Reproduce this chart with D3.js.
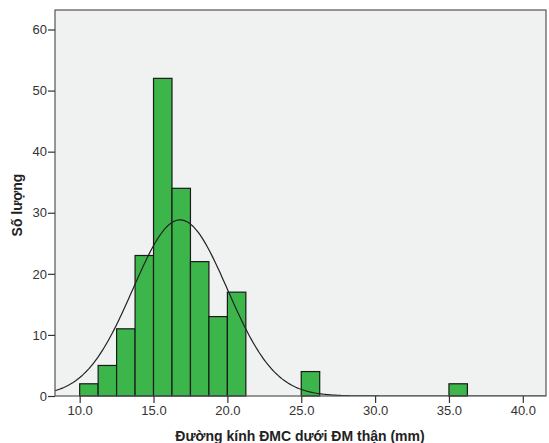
<!DOCTYPE html>
<html lang="vi">
<head>
<meta charset="UTF-8">
<title>Histogram</title>
<script src="https://d3js.org/d3.v7.min.js"></script>
<style>
  body { margin: 0; background: #fff; }
  text { font-family: "Liberation Sans", Arial, sans-serif; }
</style>
</head>
<body>
<svg id="chart"></svg>
<script>
    // bin start values and counts
    let binStarts = [10, 11.25, 12.5, 13.75, 15, 16.25, 17.5, 18.75, 20, 25, 35];
    let counts = [2, 5, 11, 23, 52, 34, 22, 13, 17, 4, 2];
    let binWidth = 1.25;
    let xTicks = [10, 15, 20, 25, 30, 35, 40];
    let yTicks = [0, 10, 20, 30, 40, 50, 60];
    // normal curve fitted by SPSS
    let mean = 16.8, sd = 3.2, n = 185;

    let width = 549, height = 443;
    let plotLeft = 55, plotRight = 546, plotTop = 10, plotBottom = 396;

    let svg = d3.select("#chart")
        .attr("width", width)
        .attr("height", height);

    let x = d3.scaleLinear().domain([8.33, 41.57]).range([plotLeft, plotRight]);
    let y = d3.scaleLinear().domain([0, 60]).range([plotBottom, 29.5]);

    // plot background
    svg.append("rect")
        .attr("x", plotLeft).attr("y", plotTop)
        .attr("width", plotRight - plotLeft).attr("height", plotBottom - plotTop)
        .attr("fill", "#f0f1f1");

    svg.append("clipPath").attr("id", "clip")
        .append("rect")
        .attr("x", plotLeft).attr("y", plotTop)
        .attr("width", plotRight - plotLeft).attr("height", plotBottom - plotTop);

    // bars
    svg.selectAll(".bar")
        .data(binStarts)
        .enter().append("rect")
        .attr("class", "bar")
        .attr("x", function (d) { return x(d); })
        .attr("y", function (d, i) { return y(counts[i]); })
        .attr("width", function (d) { return x(d + binWidth) - x(d); })
        .attr("height", function (d, i) { return y(0) - y(counts[i]); })
        .attr("fill", "#3cb54a")
        .attr("stroke", "#1a1a1a")
        .attr("stroke-width", 1.2);

    // normal curve
    let curve = d3.range(8.33, 41.6, 0.1).map(function (v) {
        let z = (v - mean) / sd;
        return [v, n * binWidth / (sd * Math.sqrt(2 * Math.PI)) * Math.exp(-0.5 * z * z)];
    });
    svg.append("path")
        .datum(curve)
        .attr("clip-path", "url(#clip)")
        .attr("fill", "none")
        .attr("stroke", "#222")
        .attr("stroke-width", 1.2)
        .attr("d", d3.line()
            .x(function (d) { return x(d[0]); })
            .y(function (d) { return y(d[1]); }));

    // frame
    svg.append("rect")
        .attr("x", plotLeft).attr("y", plotTop)
        .attr("width", plotRight - plotLeft).attr("height", plotBottom - plotTop)
        .attr("fill", "none")
        .attr("stroke", "#555")
        .attr("stroke-width", 1.2);

    // axes
    let xAxis = svg.append("g")
        .attr("transform", "translate(0," + plotBottom + ")")
        .call(d3.axisBottom(x).tickValues(xTicks).tickSize(7).tickPadding(3)
            .tickFormat(d3.format(".1f")));
    let yAxis = svg.append("g")
        .attr("transform", "translate(" + plotLeft + ",0)")
        .call(d3.axisLeft(y).tickValues(yTicks).tickSize(7).tickPadding(1));

    [xAxis, yAxis].forEach(function (g) {
        g.select(".domain").remove();
        g.selectAll("line").attr("stroke", "#333").attr("stroke-width", 1.2);
        g.selectAll("text")
            .attr("fill", "#333")
            .style("font-size", "13px")
            .style("font-family", "'Liberation Sans', Arial, sans-serif");
    });

    // axis titles
    svg.append("text")
        .attr("x", 300).attr("y", 441)
        .attr("text-anchor", "middle")
        .style("font-size", "14px")
        .style("font-weight", "bold")
        .attr("fill", "#222")
        .text("Đường kính ĐMC dưới ĐM thận (mm)");

    svg.append("text")
        .attr("transform", "translate(22,205) rotate(-90)")
        .attr("text-anchor", "middle")
        .style("font-size", "14px")
        .style("font-weight", "bold")
        .attr("fill", "#222")
        .text("Số lượng");
</script>
</body>
</html>
